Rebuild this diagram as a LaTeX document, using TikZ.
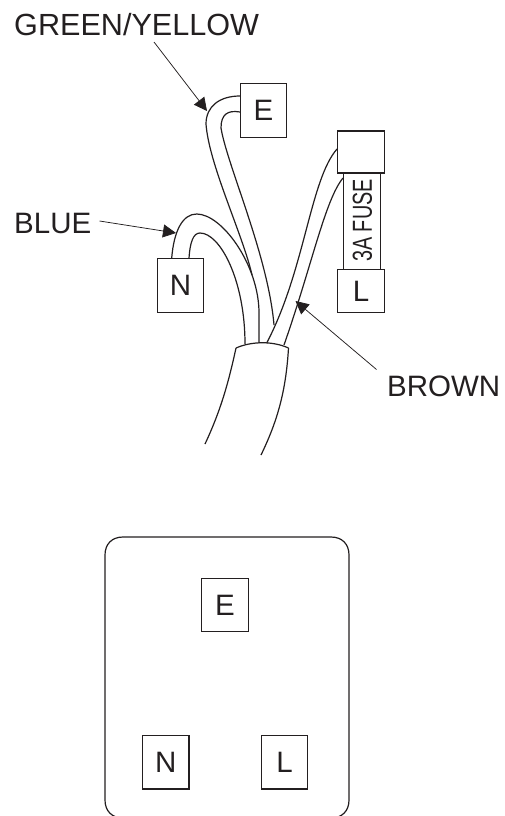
\documentclass[tikz,border=0pt]{standalone}
\usepackage{fontspec}
\setmainfont{Liberation Sans}
\usetikzlibrary{arrows.meta}
\definecolor{ink}{HTML}{231F20}
\tikzset{
  termbox/.style={draw=ink,line width=1.2pt,fill=white,inner sep=0pt,text=ink,font=\fontsize{29.5}{32}\selectfont,minimum width=46.5pt,minimum height=53.5pt},
  lbl/.style={inner sep=0pt,text=ink,font=\fontsize{29.5}{32}\selectfont,anchor=base west},
  wire/.style={draw=ink,line width=1.2pt},
  pointer/.style={draw=ink,line width=0.75pt,-{Triangle[length=13pt,width=13pt,fill=ink]}},
}
\begin{document}
\begin{tikzpicture}[x=1pt,y=-1pt]
\clip (0,0) rectangle (505,816);
\useasboundingbox (0,0) rectangle (505,816);
% wires
\coordinate (gA) at (240,96);
\coordinate (gB) at (240,112);
\coordinate (gEnd) at (252,275);
\coordinate (gEndB) at (274,325);
\coordinate (bA) at (171.7,258);
\coordinate (bB) at (189,258);
\coordinate (sh1) at (245,344);
\coordinate (sh2) at (259,343);
\coordinate (sh3) at (266.7,343);
\coordinate (sh4) at (284,345);
\coordinate (fA) at (337,149);
\coordinate (fB) at (343,178);
\draw[wire] (gA) .. controls (220,96) and (206,106) .. (206,124) .. controls (209,165) and (243,235) .. (gEnd);
\draw[wire] (gB) .. controls (228,110) and (221,114) .. (221,128) .. controls (227,165) and (268,255) .. (gEndB);
\draw[wire] (bA) .. controls (174,230) and (183,214) .. (196.7,214) .. controls (222,214) and (259,265) .. (259,313) -- (sh2);
\draw[wire] (bB) .. controls (190,243) and (193,233) .. (200,233) .. controls (220,233) and (245,280) .. (sh1);
\draw[wire] (fA) .. controls (310,180) and (305,270) .. (sh3);
\draw[wire] (fB) .. controls (325,200) and (312,265) .. (sh4);
% sheath
\coordinate (shL) at (236,348);
\coordinate (shR) at (288.5,348);
\coordinate (shLb) at (205,444);
\coordinate (shRb) at (261,455);
\draw[wire] (shL) .. controls (252,341) and (273,341) .. (shR);
\draw[wire] (shL) .. controls (228,385) and (220,412) .. (shLb);
\draw[wire] (shR) .. controls (286,390) and (278,420) .. (shRb);
% fuse
\node[draw=ink,line width=1.2pt,fill=white,minimum width=37.5pt,minimum height=98pt,inner sep=0pt] (body) at (362,220.5) {};
\node[text=ink,inner sep=0pt,rotate=90,font=\fontsize{27.5}{30}\selectfont,xscale=0.72] (fuselabel) at (362.5,220.5) {3A FUSE};
\node[termbox,minimum width=46.5pt,minimum height=42pt] (cap) at (361,152) {};
\node[termbox,minimum width=46.5pt,minimum height=43pt] (fuseL) at (361,291) {L};
\node[termbox] (wE) at (263.5,110.5) {E};
\node[termbox,minimum height=54pt] (wN) at (180.5,285.5) {N};
% labels
\node[lbl,font=\fontsize{30.6}{32}\selectfont] (gy) at (14,36) {GREEN/YELLOW};
\node[lbl] (bl) at (14,233) {BLUE};
\node[lbl] (br) at (387,396) {BROWN};
\coordinate (gyS) at (154,42);
\coordinate (gyT) at (207,111);
\coordinate (blS) at (99.5,221);
\coordinate (blT) at (176,233);
\coordinate (brS) at (376.5,369.5);
\coordinate (brT) at (295.5,301);
\draw[pointer] (gyS) -- (gyT);
\draw[pointer] (blS) -- (blT);
\draw[pointer] (brS) -- (brT);
% socket
\draw[wire] (105,555) .. controls (105,544) and (112,537) .. (123,537) -- (331,537) .. controls (342,537) and (349,544) .. (349,555) -- (349,800) .. controls (349,811) and (342,818) .. (331,818) -- (123,818) .. controls (112,818) and (105,811) .. (105,800) -- cycle;
\node[termbox] (sE) at (225,605) {E};
\node[termbox] (sN) at (165.7,762.3) {N};
\node[termbox] (sL) at (284.5,762.3) {L};
\end{tikzpicture}
\end{document}
